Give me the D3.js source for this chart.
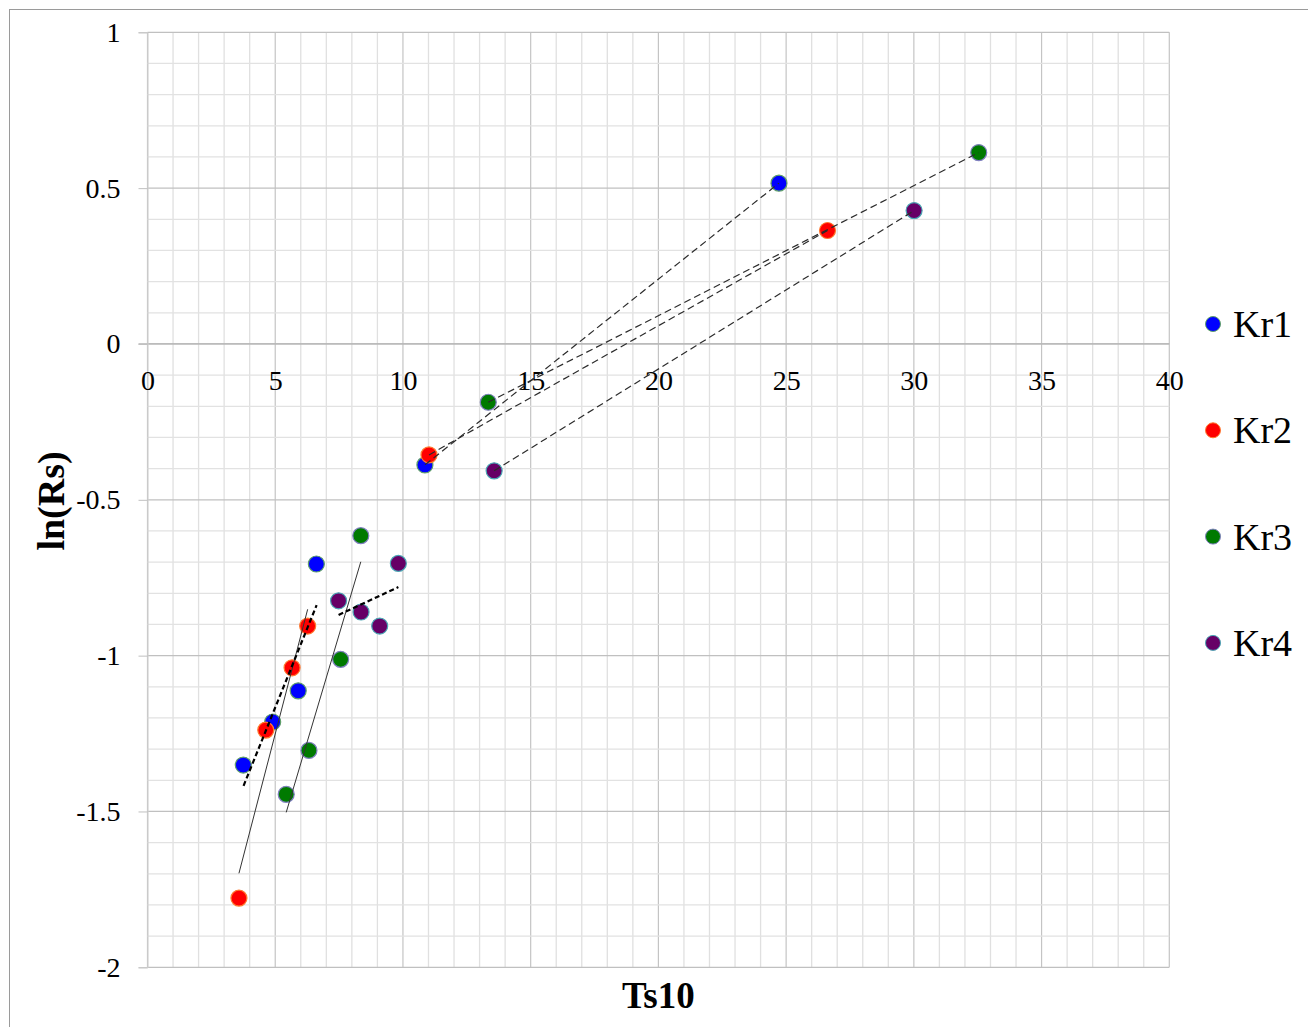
<!DOCTYPE html>
<html>
<head>
<meta charset="utf-8">
<script src="https://cdn.jsdelivr.net/npm/d3@7"></script>
<style>
  body { margin: 0; background: #fff; }
  svg { display: block; }
</style>
</head>
<body>
<svg id="chart" width="1308" height="1027"></svg>
<script>
// Measured points: [Ts10, ln(Rs)]
const seriesNames = ["Kr1", "Kr2", "Kr3", "Kr4"];
const kr1 = [[3.75, -1.351], [4.90, -1.213], [5.90, -1.113], [6.61, -0.706], [10.86, -0.388], [24.72, 0.516]];
const kr2 = [[3.58, -1.778], [4.63, -1.239], [5.66, -1.039], [6.27, -0.905], [11.02, -0.356], [26.62, 0.364]];
const kr3 = [[5.43, -1.445], [6.32, -1.304], [7.56, -1.012], [8.35, -0.615], [13.34, -0.187], [32.54, 0.614]];
const kr4 = [[7.48, -0.824], [8.36, -0.860], [9.09, -0.905], [9.82, -0.704], [13.57, -0.407], [30.01, 0.428]];
const seriesValues = [kr1, kr2, kr3, kr4];

// Axis ticks
const xTicks = [0, 5, 10, 15, 20, 25, 30, 35, 40];
const yTicks = [1, 0.5, 0, -0.5, -1, -1.5, -2];

// Least-squares trend lines: [series, first point index, last point index]
const trendFits = [["Kr2", 0, 3], ["Kr2", 1, 3], ["Kr3", 0, 3], ["Kr4", 0, 3]];
// Optional forecast range of a trend line (null = span of its points)
const trendExtent = [null, [3.76, 6.62], null, null];

// The two high-temperature points of every series are joined
const connectFrom = 4, connectTo = 5;

// ---------------------------------------------------------------
const colors = { Kr1: "#0000ff", Kr2: "#ff0000", Kr3: "#007a00", Kr4: "#660066" };
const outlines = { Kr1: "#5f9f6a", Kr2: "#ff7a30", Kr3: "#7f7fbf", Kr4: "#4aa6b4" };
const trendStyle = [
  { stroke: "#333", width: 1, dash: null },
  { stroke: "#000", width: 2.2, dash: "5,3" },
  { stroke: "#333", width: 1, dash: null },
  { stroke: "#000", width: 2.2, dash: "5,3" }
];

const svg = d3.select("#chart");
const serif = "'Liberation Serif', 'Times New Roman', serif";

const x = d3.scaleLinear().domain([0, 40]).range([147.5, 1169.3]);
const y = d3.scaleLinear().domain([-2, 1]).range([967.3, 32.3]);

// outer frame
svg.append("rect")
  .attr("x", 9.5).attr("y", 9.5).attr("width", 1320).attr("height", 1040)
  .attr("fill", "#fff").attr("stroke", "#9a9a9a").attr("stroke-width", 1);

// grid
const grid = svg.append("g");
d3.range(0, 41).forEach(i => {
  const major = i % 5 === 0;
  grid.append("line")
    .attr("x1", x(i)).attr("x2", x(i))
    .attr("y1", y(1)).attr("y2", y(-2))
    .attr("stroke", major ? "#c4c4c4" : "#e0e0e0")
    .attr("stroke-width", major ? 1.2 : 1.3);
});
d3.range(-20, 11).forEach(k => {
  const major = k % 5 === 0;
  grid.append("line")
    .attr("x1", x(0)).attr("x2", x(40))
    .attr("y1", y(k / 10)).attr("y2", y(k / 10))
    .attr("stroke", major ? "#c0c0c0" : "#e2e2e2")
    .attr("stroke-width", major ? 1.2 : 1.3);
});
// zero line
svg.append("line")
  .attr("x1", x(0) - 9).attr("x2", x(40))
  .attr("y1", y(0)).attr("y2", y(0))
  .attr("stroke", "#b4b4b4").attr("stroke-width", 1.3);

// y axis with outward ticks
const yAxis = svg.append("g")
  .attr("transform", `translate(${x(0)},0)`)
  .call(d3.axisLeft(y).tickValues(yTicks).tickSize(9).tickPadding(18)
    .tickFormat(d => String(d)));
yAxis.attr("font-family", serif).attr("font-size", 28);
yAxis.select(".domain").attr("stroke", "#d0d0d0");
yAxis.selectAll(".tick line").attr("stroke", "#c0c0c0");
yAxis.selectAll(".tick text").attr("fill", "#000");

// x axis labels hang below the zero line
const xAxis = svg.append("g")
  .attr("transform", `translate(0,${y(0)})`)
  .call(d3.axisBottom(x).tickValues(xTicks).tickSize(0).tickPadding(26)
    .tickFormat(d => String(d)));
xAxis.attr("font-family", serif).attr("font-size", 28);
xAxis.select(".domain").remove();
xAxis.selectAll(".tick text").attr("fill", "#000");

// markers
const marks = svg.append("g");
seriesNames.forEach((name, si) => {
  marks.selectAll(null)
    .data(seriesValues[si])
    .enter().append("circle")
    .attr("cx", d => x(d[0])).attr("cy", d => y(d[1]))
    .attr("r", 8)
    .attr("fill", colors[name])
    .attr("stroke", outlines[name]).attr("stroke-width", 1.2);
});

// dashed connectors between the two high-temperature points
const line = d3.line().x(d => x(d[0])).y(d => y(d[1]));
seriesValues.forEach(vals => {
  svg.append("path")
    .attr("d", line([vals[connectFrom], vals[connectTo]]))
    .attr("fill", "none").attr("stroke", "#2b2b2b")
    .attr("stroke-width", 1.2).attr("stroke-dasharray", "7,4");
});

// trend lines from linear regression
function linearFit(pts) {
  const mx = d3.mean(pts, p => p[0]), my = d3.mean(pts, p => p[1]);
  const sxy = d3.sum(pts, p => (p[0] - mx) * (p[1] - my));
  const sxx = d3.sum(pts, p => (p[0] - mx) ** 2);
  const slope = sxy / sxx;
  return { slope, intercept: my - slope * mx };
}
trendFits.forEach((fit, i) => {
  const vals = seriesValues[seriesNames.indexOf(fit[0])].slice(fit[1], fit[2] + 1);
  const f = linearFit(vals);
  const ext = trendExtent[i] || d3.extent(vals, p => p[0]);
  const pts = ext.map(t => [t, f.intercept + f.slope * t]);
  const st = trendStyle[i];
  svg.append("path")
    .attr("d", line(pts))
    .attr("fill", "none").attr("stroke", st.stroke)
    .attr("stroke-width", st.width)
    .attr("stroke-dasharray", st.dash);
});

// legend
const legend = svg.append("g");
seriesNames.forEach((name, i) => {
  const ly = 324 + i * 106.3;
  legend.append("circle")
    .attr("cx", 1213).attr("cy", ly).attr("r", 7.5)
    .attr("fill", colors[name]).attr("stroke", outlines[name]).attr("stroke-width", 1);
  legend.append("text")
    .attr("x", 1233).attr("y", ly + 13)
    .attr("font-family", serif).attr("font-size", 38).attr("fill", "#000")
    .text(name);
});

// axis titles
svg.append("text")
  .attr("x", 658.4).attr("y", 1008)
  .attr("text-anchor", "middle")
  .attr("font-family", serif).attr("font-size", 37).attr("font-weight", "bold")
  .text("Ts10");
svg.append("text")
  .attr("transform", "translate(64,501) rotate(-90)")
  .attr("text-anchor", "middle")
  .attr("font-family", serif).attr("font-size", 38).attr("font-weight", "bold")
  .text("ln(Rs)");
</script>
</body>
</html>
